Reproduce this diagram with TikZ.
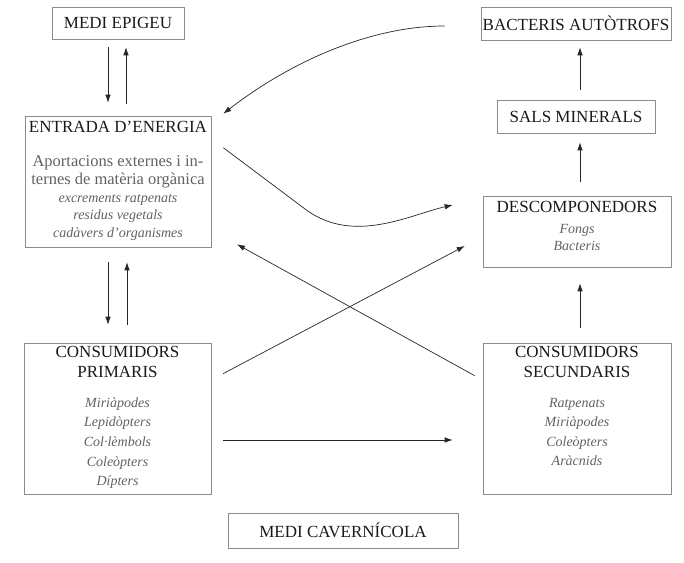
\documentclass[tikz,border=0pt]{standalone}
\usepackage{fontspec}
\setmainfont{Liberation Serif}
\usepackage{tikz}
\usetikzlibrary{positioning,arrows.meta,calc}

\begin{document}
\begin{tikzpicture}[
          x=1pt, y=-1pt,
          box/.style={draw=black!45, line width=0.6pt, inner sep=0pt},
          titl/.style={font=\fontsize{17}{20.7}\selectfont, text=black!90, align=center, inner sep=0pt},
          sub/.style={font=\fontsize{16.5}{17.7}\selectfont, text=black!62, align=center, inner sep=0pt, anchor=north},
          spp/.style={font=\fontsize{14}{#1}\selectfont\itshape, text=black!62, align=center, inner sep=0pt, anchor=north},
          arr/.style={-{Latex[length=8pt,width=5.5pt]}, line width=0.7pt, black!85}
      ]
        \useasboundingbox (0,0) rectangle (684,562);
        % caixes
        \node[box, titl, minimum width=132, minimum height=32] (epig) at (118,23) {MEDI EPIGEU};
        \node[box, minimum width=186, minimum height=131] (entr) at (118,181.5) {};
        \node[box, minimum width=187, minimum height=151] (cprim) at (117.5,418.5) {};
        \node[box, titl, minimum width=190, minimum height=33] (bact) at (576,23.5) {BACTERIS AUTÒTROFS};
        \node[box, titl, minimum width=158, minimum height=33] (sals) at (576,116.5) {SALS MINERALS};
        \node[box, minimum width=188, minimum height=71] (desc) at (577,231.5) {};
        \node[box, minimum width=188, minimum height=151] (csec) at (577,418.5) {};
        \node[box, titl, minimum width=230, minimum height=35] (cave) at (343,530.5) {MEDI CAVERNÍCOLA};
        % textos
        \node[titl, anchor=north] (entrtit) at ($(entr.north)+(0,5.5)$) {ENTRADA D’ENERGIA};
        \node[sub] (entrsub) at ($(entr.north)+(0,39.7)$) {Aportacions externes i in-\\ternes de matèria orgànica};
        \node[spp=17.5] (entrspp) at ($(entr.north)+(0,78.4)$) {excrements ratpenats\\residus vegetals\\cadàvers d’organismes};
        \node[titl, anchor=north] (cprimtit) at ($(cprim.north)+(0,3)$) {CONSUMIDORS\\PRIMARIS};
        \node[spp=19.7] (cprimspp) at ($(cprim.north)+(0,54.4)$) {Miriàpodes\\Lepidòpters\\Col·lèmbols\\Coleòpters\\Dípters};
        \node[titl, anchor=north] (csectit) at ($(csec.north)+(0,3)$) {CONSUMIDORS\\SECUNDARIS};
        \node[spp=19.5] (csecspp) at ($(csec.north)+(0,55)$) {Ratpenats\\Miriàpodes\\Coleòpters\\Aràcnids};
        \node[titl, anchor=north] (desctit) at ($(desc.north)+(0,5)$) {DESCOMPONEDORS};
        \node[spp=16.7] (descspp) at ($(desc.north)+(0,28.7)$) {Fongs\\Bacteris};
        % fletxes
        \draw[arr] ($(epig.south)+(-10,8)$) -- ($(entr.north)+(-10,-13)$);
        \draw[arr] ($(entr.north)+(8,-12)$) -- ($(epig.south)+(8,8)$);
        \draw[arr] ($(entr.south)+(-10,15)$) -- ($(cprim.north)+(-9.5,-18)$);
        \draw[arr] ($(cprim.north)+(9.5,-18)$) -- ($(entr.south)+(9,15)$);
        \draw[arr] ($(bact.west)+(-36,2.5)$) .. controls (370,26) and (290,62) .. ($(entr.north east)+(12,-2)$);
        \draw[arr] ($(entr.north east)+(12,32)$) -- (305,209) .. controls (353,245) and (409,215) .. ($(desc.west)+(-30,-26.5)$);
        \draw[arr] ($(csec.north west)+(-8,33)$) -- ($(entr.south east)+(25.7,-3)$);
        \draw[arr] ($(cprim.north east)+(11.7,31)$) -- ($(desc.south west)+(-18,-21.3)$);
        \draw[arr] ($(cprim.east)+(12,21.5)$) -- ($(csec.west)+(-30,21.5)$);
        \draw[arr] ($(desc.north)+(3,-14)$) -- ($(sals.south)+(4,9)$);
        \draw[arr] ($(sals.north)+(4,-10)$) -- ($(bact.south)+(4,7)$);
        \draw[arr] ($(csec.north)+(3,-15)$) -- ($(desc.south)+(3,16)$);
      \end{tikzpicture}
\end{document}
